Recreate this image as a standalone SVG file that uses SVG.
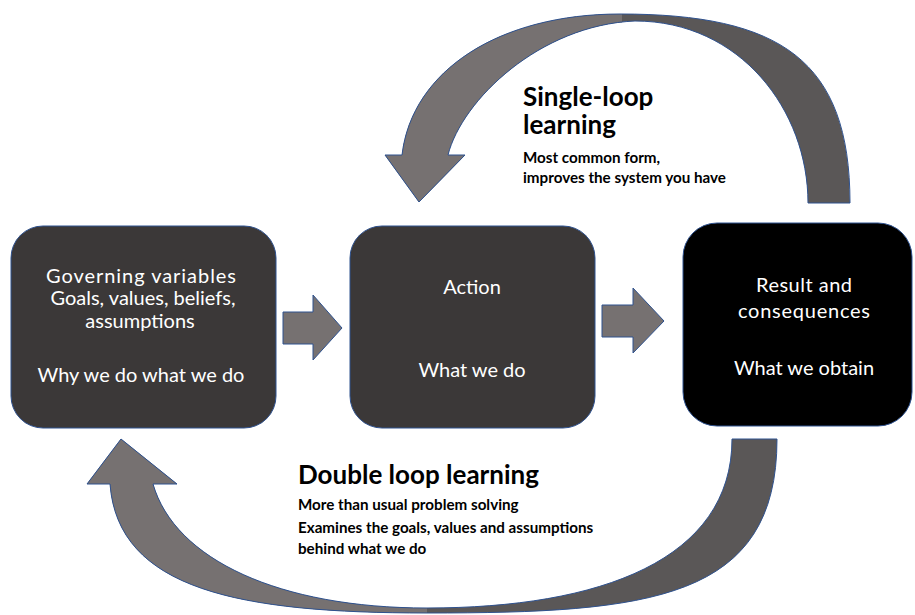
<svg xmlns="http://www.w3.org/2000/svg" width="915" height="615" viewBox="0 0 915 615">
  <defs>
    <style>
      .box { fill: #3b3838; stroke: #2f528f; stroke-width: 1; }
      .box-dark { fill: #000000; stroke: #2f528f; stroke-width: 1; }
      .block { fill: #767171; stroke: #2f528f; stroke-width: 1; }
      .front { fill: #767171; }
      .back { fill: #5a5757; }
      .edge { fill: none; stroke: #2f528f; stroke-width: 1; stroke-linejoin: miter; }
      .in { font-family: Lato, "Liberation Sans", sans-serif; font-size: 20px; fill: #ffffff; text-anchor: middle; }
      .head { font-family: Lato, "Liberation Sans", sans-serif; font-weight: 700; fill: #000000; }
      .big { font-size: 26px; }
      .small { font-size: 15.2px; }
    </style>
    <!-- outline of the upper (single-loop) curved arrow -->
    <path id="loopTop" d="M 402,155 C 412,70 500,14 620,14 C 780,14 850,60 850,203 L 808,203 C 808,110 740,21 635,21 C 540,25 462,100 448,155 L 465,155 L 419,202 L 385,155 Z"/>
    <!-- outline of the lower (double-loop) curved arrow -->
    <path id="loopBottom" d="M 110,484 C 118,590 240,613 427,613 C 650,613 777,600 777,439 L 732,439 C 732,560 600,608 427,608 C 280,608 175,560 153,484 L 177,484 L 121,439 L 87,484 Z"/>
    <clipPath id="leftOfTop"><rect x="0" y="0" width="622" height="615"/></clipPath>
    <clipPath id="leftOfBottom"><rect x="0" y="0" width="427" height="615"/></clipPath>
  </defs>

  <rect width="915" height="615" fill="#ffffff"/>

  <g id="connectors">
    <!-- straight block arrows -->
    <path class="block" d="M 283,312 L 313,312 L 313,295 L 342,328 L 313,360 L 313,344 L 283,344 Z"/>
    <path class="block" d="M 602,305 L 633,305 L 633,288 L 664,321 L 633,353 L 633,337 L 602,337 Z"/>
    <!-- single-loop curved arrow: back face dark, front face light -->
    <g id="single-loop-arrow">
      <use href="#loopTop" class="back"/>
      <use href="#loopTop" class="front" clip-path="url(#leftOfTop)"/>
      <use href="#loopTop" class="edge"/>
    </g>
    <!-- double-loop curved arrow -->
    <g id="double-loop-arrow">
      <use href="#loopBottom" class="back"/>
      <use href="#loopBottom" class="front" clip-path="url(#leftOfBottom)"/>
      <use href="#loopBottom" class="edge"/>
    </g>
  </g>

  <g id="governing">
    <rect class="box" x="11" y="226" width="265" height="202" rx="32" ry="32"/>
    <text class="in" x="141" y="283" textLength="190">Governing variables</text>
    <text class="in" x="143" y="305">Goals, values, beliefs,</text>
    <text class="in" x="140" y="328">assumptions</text>
    <text class="in" x="141" y="382">Why we do what we do</text>
  </g>

  <g id="action">
    <rect class="box" x="350" y="226" width="245" height="202" rx="32" ry="32"/>
    <text class="in" x="472" y="294">Action</text>
    <text class="in" x="472" y="377">What we do</text>
  </g>

  <g id="result">
    <rect class="box-dark" x="683" y="223" width="229" height="203" rx="34" ry="34"/>
    <text class="in" x="804" y="292" textLength="96">Result and</text>
    <text class="in" x="804" y="318" textLength="132">consequences</text>
    <text class="in" x="804" y="375">What we obtain</text>
  </g>

  <g id="single-loop-label">
    <text class="head big" x="523" y="106">Single-loop</text>
    <text class="head big" x="523" y="134">learning</text>
    <text class="head small" x="523" y="163">Most common form,</text>
    <text class="head small" x="523" y="183">improves the system you have</text>
  </g>

  <g id="double-loop-label">
    <text class="head big" x="298" y="484">Double loop learning</text>
    <text class="head small" x="298" y="510">More than usual problem solving</text>
    <text class="head small" x="298" y="533">Examines the goals, values and assumptions</text>
    <text class="head small" x="298" y="554">behind what we do</text>
  </g>
</svg>
